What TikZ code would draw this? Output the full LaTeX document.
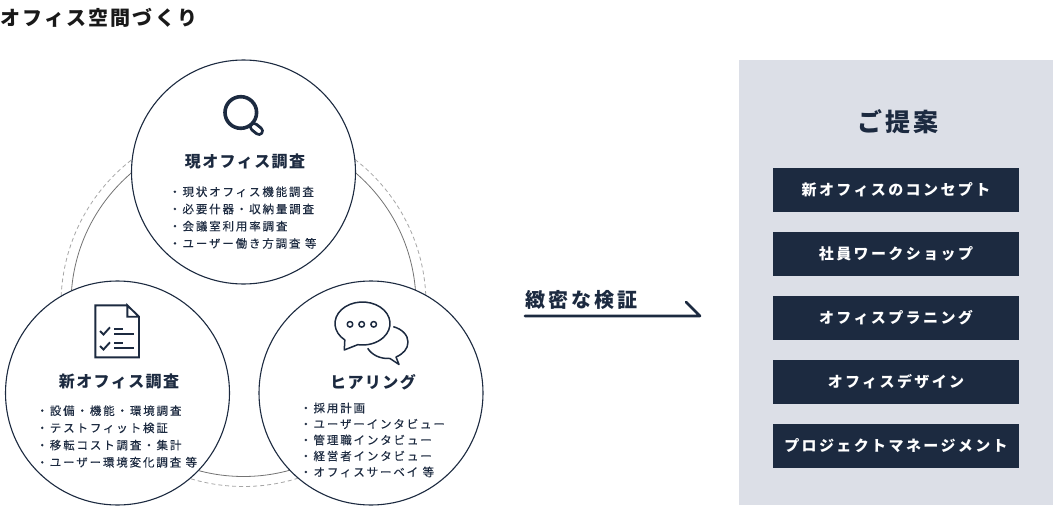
\documentclass[tikz,border=0pt]{standalone}
\usepackage{fontspec}
\setmainfont{Noto Sans CJK JP}
\newfontfamily\listfont[LetterSpace=16,FakeBold=0.15]{Noto Sans CJK JP}
\newfontfamily\headfont[LetterSpace=9]{Noto Sans CJK JP}
\newfontfamily\boxfont[LetterSpace=16]{Noto Sans CJK JP}
\definecolor{navy}{HTML}{1C2A40}
\definecolor{panelgray}{HTML}{DCDFE7}
\tikzset{
  bubble/.style={draw=navy, fill=white, line width=1.1pt},
  icon/.style={draw=navy, line width=1.9pt},
  thinicon/.style={draw=navy, line width=1.5pt, line join=round},
  listtext/.style={anchor=west, align=left, inner sep=0pt, text=navy, font=\fontsize{11.5}{17.2}\selectfont\listfont},
  headtext/.style={inner sep=0pt, text=navy, font=\fontsize{16}{18}\selectfont\headfont\bfseries},
  planbox/.style={fill=navy, text=white, minimum width=246pt, minimum height=44pt, inner sep=0pt, font=\fontsize{15}{18}\selectfont\boxfont\bfseries}
}
\begin{document}
\begin{tikzpicture}[x=1pt, y=-1pt]
\useasboundingbox (0,0) rectangle (1053,506);

\node[anchor=west, inner sep=0pt, text=black!90, font=\fontsize{20}{22}\selectfont\bfseries\addfontfeature{LetterSpace=11}] (pagetitle) at (0,18) {オフィス空間づくり};

\draw[gray!90!black, line width=0.8pt] (243.5,304) circle (172.5);
\draw[gray!70, line width=0.8pt, dash pattern=on 4pt off 3pt] (243.5,304) circle (182.5);

\draw[bubble] (243.5,172) circle (112);
\draw[bubble] (117.5,393) circle (112);
\draw[bubble] (371,393) circle (112);

\draw[navy, line width=10pt, line cap=round] (254,127) -- (259,131);
\draw[white, line width=4pt, line cap=round] (254,127) -- (259,131);
\draw[navy, fill=white, line width=3.6pt] (240.8,112.5) circle (15.8);

\draw[icon, line join=miter] (127.3,305.3) -- (95.3,305.3) -- (95.3,357.3) -- (139,357.3) -- (139,316.7) -- (127.3,305.3) -- (127.3,316.7) -- (139,316.7);
\draw[icon] (100,331) -- (103.5,334.5) -- (110,327.3);
\draw[icon] (100,346) -- (103.5,349.5) -- (110,342.3);
\draw[icon] (114,328.7) -- (122.7,328.7);
\draw[icon] (114,334) -- (134.3,334);
\draw[icon] (114,343.3) -- (122.7,343.3);
\draw[icon] (114,347.7) -- (134.3,347.7);

\draw[thinicon] (362.5,323.5) ++(130:27.5 and 21.5) arc (130:460:27.5 and 21.5) -- (344.3,350) -- cycle;
\draw[thinicon] (393.3,326.7) .. controls (402,329) and (408,335) .. (408,342) .. controls (408,349) and (403,354) .. (396,357) -- (399,364.5) -- (390,358.5) .. controls (380,359) and (372,355) .. (367.7,348.3);
\draw[thinicon] (350,324.3) circle (2.8);
\draw[thinicon] (361.7,324.3) circle (2.8);
\draw[thinicon] (373.7,324.3) circle (2.8);

\node[headtext] (genchi) at (245,161.7) {現オフィス調査};
\node[headtext] (shinchi) at (119,381.7) {新オフィス調査};
\node[headtext] (hearing) at (373,382) {ヒアリング};

\node[listtext] (genlist) at (169,217.6) {・現状オフィス機能調査\\・必要什器・収納量調査\\・会議室利用率調査\\・ユーザー働き方調査 等};
\node[listtext] (shinlist) at (36.3,436.5) {・設備・機能・環境調査\\・テストフィット検証\\・移転コスト調査・集計\\・ユーザー環境変化調査 等};
\node[listtext, font=\fontsize{11.5}{16}\selectfont\listfont] (hearlist) at (300,440) {・採用計画\\・ユーザーインタビュー\\・管理職インタビュー\\・経営者インタビュー\\・オフィスサーベイ 等};

\node[anchor=west, inner sep=0pt, text=navy, font=\fontsize{20}{22}\selectfont\bfseries\addfontfeature{LetterSpace=15}] (kensho) at (525,300) {緻密な検証};
\coordinate (arrowstart) at (525,316);
\coordinate (arrowend) at (700,316);
\coordinate (arrowbarb) at (686,302);
\draw[navy, line width=2.6pt, line cap=round, line join=round] (arrowstart) -- (arrowend) -- (arrowbarb);

\fill[panelgray] (739,60) rectangle (1053,505);
\node[inner sep=0pt, text=navy, font=\fontsize{25}{28}\selectfont\bfseries\addfontfeature{LetterSpace=13}] (teian) at (898,121.7) {ご提案};

\node[planbox] (plana) at (896,190) {新オフィスのコンセプト};
\node[planbox] (planb) at (896,254) {社員ワークショップ};
\node[planbox] (planc) at (896,318) {オフィスプラニング};
\node[planbox] (pland) at (896,382) {オフィスデザイン};
\node[planbox] (plane) at (896,446) {プロジェクトマネージメント};
\end{tikzpicture}
\end{document}
